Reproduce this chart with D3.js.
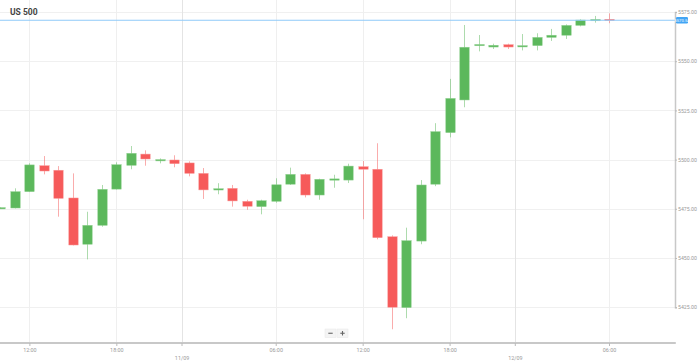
<!DOCTYPE html>
<html><head><meta charset="utf-8">
<script src="https://cdn.jsdelivr.net/npm/d3@7"></script>
<style>
html,body{margin:0;padding:0;background:#fff;}
svg{display:block;font-family:Roboto,"Noto Sans",sans-serif;}
</style></head>
<body>
<svg id="chart" width="699" height="361"></svg>
<script>
const times = ["10/09 10:00","11:00","12:00","13:00","14:00","15:00","16:00","17:00","18:00","19:00","20:00","21:00","22:00",
"11/09 00:00","01:00","02:00","03:00","04:00","05:00","06:00","07:00","08:00","09:00","10:00","11:00","12:00","13:00","14:00","15:00","16:00","17:00","18:00","19:00","20:00","21:00","22:00",
"12/09 00:00","01:00","02:00","03:00","04:00","05:00","06:00"];
const opens  = [5475.2,5475.4,5483.7,5496.9,5494.6,5480.5,5457.0,5466.6,5485.0,5497.1,5502.8,5499.7,5499.8,5498.3,5493.0,5484.8,5485.4,5478.8,5476.1,5478.8,5487.5,5492.5,5482.0,5489.9,5489.6,5496.4,5495.1,5460.8,5424.8,5458.6,5487.5,5513.7,5530.3,5558.2,5557.2,5558.4,5557.6,5557.9,5562.1,5563.2,5568.2,5570.9,5571.3];
const highs  = [5475.8,5485.4,5498.1,5501.8,5496.7,5493.0,5473.5,5487.1,5498.6,5506.9,5504.7,5500.6,5502.2,5499.1,5495.7,5488.0,5487.1,5479.6,5479.6,5490.5,5495.9,5493.0,5490.3,5492.3,5497.9,5499.3,5508.3,5461.5,5465.4,5489.6,5518.5,5541.0,5568.4,5563.3,5558.9,5558.9,5563.8,5564.2,5566.4,5568.7,5571.3,5573.0,5574.3];
const lows   = [5475.0,5475.2,5483.5,5492.5,5471.0,5456.4,5449.3,5465.9,5484.8,5495.1,5496.9,5498.1,5496.1,5491.5,5480.0,5482.4,5476.1,5474.5,5472.2,5478.1,5487.1,5480.8,5479.6,5485.7,5488.1,5469.7,5459.5,5413.8,5419.4,5457.0,5486.5,5511.3,5526.6,5555.0,5556.2,5556.2,5555.5,5555.5,5560.3,5561.3,5567.7,5569.6,5569.3];
const closes = [5475.6,5483.7,5497.3,5494.2,5480.3,5456.6,5466.6,5484.9,5497.4,5503.2,5500.3,5500.0,5497.9,5493.0,5484.6,5485.2,5479.0,5476.3,5479.1,5487.2,5492.5,5482.0,5490.0,5490.2,5496.7,5495.1,5460.3,5425.0,5458.8,5487.1,5514.2,5531.1,5557.1,5558.5,5558.1,5557.2,5557.9,5562.1,5563.2,5568.2,5570.9,5571.2,5570.8];
const priceTicks = [5425,5450,5475,5500,5525,5550,5575];
const timeTickPos = [2,8,19,25,31,42];
const timeTickLabels = ["12:00","18:00","06:00","12:00","18:00","06:00"];
const dateTickPos = [12.5,35.5];
const dateTickLabels = ["11/09","12/09"];
const title = "US 500";
const lastPrice = 5570.8;
const lastPriceLabel = "5570.54";

const svg = d3.select("#chart");
const plotRight = 675, plotBottom = 343;
const x = d3.scaleLinear().domain([0, 42]).range([0.4, 609]);
const y = d3.scaleLinear().domain([5425, 5575]).range([307.2, 12]);
const green = "#5cb85c", red = "#f65a5a";

const data = times.map((t,i)=>({t, i, o:opens[i], h:highs[i], l:lows[i], c:closes[i]}));

svg.append("defs").append("clipPath").attr("id","pc")
  .append("rect").attr("x",0).attr("y",0).attr("width",plotRight).attr("height",plotBottom);

// grid
const grid = svg.append("g");
grid.selectAll("line.h").data(priceTicks).join("line")
  .attr("x1",0).attr("x2",plotRight).attr("y1",d=>Math.round(y(d))+0.5).attr("y2",d=>Math.round(y(d))+0.5)
  .attr("stroke","#f0f0f0");
grid.selectAll("line.v").data(timeTickPos).join("line")
  .attr("x1",d=>Math.round(x(d))+0.5).attr("x2",d=>Math.round(x(d))+0.5).attr("y1",0).attr("y2",plotBottom)
  .attr("stroke","#efefef");
grid.selectAll("line.d").data(dateTickPos).join("line")
  .attr("x1",d=>Math.round(x(d))+0.5).attr("x2",d=>Math.round(x(d))+0.5).attr("y1",0).attr("y2",plotBottom)
  .attr("stroke","#e4e4e4");

// title
svg.append("text").attr("x",10).attr("y",14.5).attr("font-size",8.5).attr("font-weight","bold")
  .attr("fill","#444").text(title);

// candles
const cg = svg.append("g").attr("clip-path","url(#pc)");
const bw = 9.4;
cg.selectAll("line.w").data(data).join("line")
  .attr("x1",d=>Math.round(x(d.i))+0.5).attr("x2",d=>Math.round(x(d.i))+0.5)
  .attr("y1",d=>y(d.h)).attr("y2",d=>y(d.l))
  .attr("stroke",d=>d.c>=d.o?green:red).attr("stroke-opacity",0.5).attr("stroke-width",1);
cg.selectAll("rect.b").data(data).join("rect")
  .attr("x",d=>Math.round(x(d.i))+0.5-bw/2)
  .attr("width",bw)
  .attr("y",d=>y(Math.max(d.o,d.c)))
  .attr("height",d=>Math.max(1.3, Math.abs(y(d.o)-y(d.c))))
  .attr("fill",d=>d.c>=d.o?green:red)
  .attr("stroke",d=>d.c>=d.o?"#8fd08f":"#f99a9a").attr("stroke-width",0.5);

// current price line
svg.append("line").attr("x1",0).attr("x2",plotRight).attr("y1",y(lastPrice)).attr("y2",y(lastPrice))
  .attr("stroke","#90caf9").attr("stroke-width",1);

// axes
const yAxis = d3.axisRight(y).tickValues(priceTicks).tickFormat(d3.format(".2f")).tickSize(2).tickPadding(1);
const ya = svg.append("g").attr("transform",`translate(${plotRight},0)`).call(yAxis);
ya.select(".domain").attr("stroke","#c8c8c8").attr("stroke-width",1.5);
ya.selectAll(".tick line").attr("stroke","#bbb");
ya.selectAll(".tick text").attr("fill","#999").attr("font-size",5.2).attr("font-family","Roboto,sans-serif");

const xa = svg.append("g").attr("transform",`translate(0,${plotBottom})`);
xa.append("line").attr("x1",0).attr("x2",plotRight+0.8).attr("y1",0).attr("y2",0).attr("stroke","#c8c8c8").attr("stroke-width",2);
const xTicks = d3.axisBottom(x).tickValues(timeTickPos).tickFormat((d,i)=>timeTickLabels[i]).tickSize(3).tickPadding(2);
const xt = svg.append("g").attr("transform",`translate(0,${plotBottom})`).call(xTicks);
xt.select(".domain").remove();
xt.selectAll(".tick line").attr("stroke","#bbb");
xt.selectAll(".tick text").attr("fill","#999").attr("font-size",5.4).attr("font-family","Roboto,sans-serif");
const dTicks = d3.axisBottom(x).tickValues(dateTickPos).tickFormat((d,i)=>dateTickLabels[i]).tickSize(3).tickPadding(10);
const dt = svg.append("g").attr("transform",`translate(0,${plotBottom})`).call(dTicks);
dt.select(".domain").remove();
dt.selectAll(".tick line").attr("stroke","#bbb");
dt.selectAll(".tick text").attr("fill","#999").attr("font-size",5.4).attr("font-family","Roboto,sans-serif");

// last price label
const lp = svg.append("g").attr("transform",`translate(${plotRight+1},${y(lastPrice)})`);
lp.append("rect").attr("x",0).attr("y",-3.3).attr("width",12).attr("height",6.6).attr("rx",1.2).attr("fill","#42a5f5");
lp.append("text").attr("x",6).attr("y",1.6).attr("text-anchor","middle").attr("font-size",4.2)
  .attr("fill","#fff").text(lastPriceLabel);

// zoom buttons
const zb = svg.append("g").attr("transform","translate(325,329)");
zb.append("rect").attr("x",0).attr("y",0).attr("width",11).attr("height",8.5).attr("fill","#f4f4f4").attr("stroke","#e8e8e8").attr("stroke-width",0.5);
zb.append("rect").attr("x",12).attr("y",0).attr("width",11).attr("height",8.5).attr("fill","#f4f4f4").attr("stroke","#e8e8e8").attr("stroke-width",0.5);
zb.append("line").attr("x1",3.3).attr("x2",7.7).attr("y1",4.25).attr("y2",4.25).attr("stroke","#666").attr("stroke-width",1.1);
zb.append("line").attr("x1",15.3).attr("x2",19.7).attr("y1",4.25).attr("y2",4.25).attr("stroke","#666").attr("stroke-width",1.1);
zb.append("line").attr("x1",17.5).attr("x2",17.5).attr("y1",2).attr("y2",6.5).attr("stroke","#666").attr("stroke-width",1.1);
</script>
</body></html>
